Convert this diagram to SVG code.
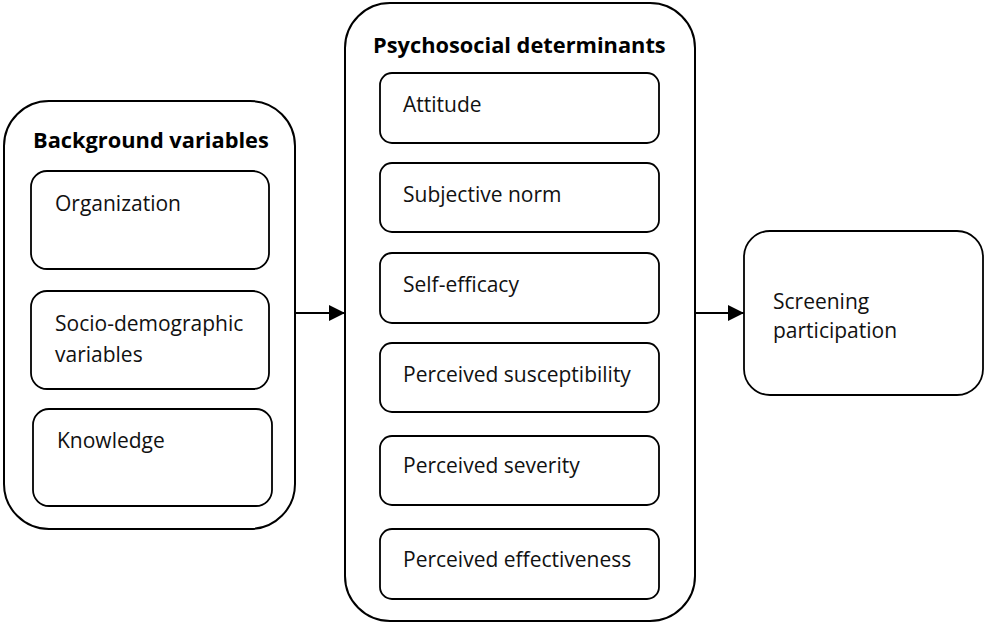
<svg xmlns="http://www.w3.org/2000/svg" width="984" height="623" viewBox="0 0 984 623">
  <style>
    .outer { fill: #fff; stroke: #000; stroke-width: 2; }
    .inner { fill: #fff; stroke: #000; stroke-width: 1.8; }
    .t { font-family: "Open Sans", "Noto Sans", sans-serif; font-size: 21px; fill: #111; }
    .h { font-family: "Open Sans", "Noto Sans", sans-serif; font-size: 21.8px; font-weight: bold; fill: #000; }
    .link { stroke: #000; stroke-width: 2; fill: none; }
  </style>
  <defs>
    <marker id="head" markerUnits="userSpaceOnUse" markerWidth="16" markerHeight="16" refX="16" refY="8" orient="auto">
      <path d="M0,0 L16,8 L0,16 Z" fill="#000"/>
    </marker>
  </defs>

  <!-- Background variables -->
  <g id="background">
    <rect class="outer" x="4" y="101" width="291" height="428" rx="45" ry="45"/>
    <text class="h" x="33" y="148">Background variables</text>
  </g>
  <g id="organization">
    <rect class="inner" x="31" y="171" width="238" height="98" rx="16" ry="16"/>
    <text class="t" x="55" y="211">Organization</text>
  </g>
  <g id="socio-demographic">
    <rect class="inner" x="31" y="291" width="238" height="98" rx="16" ry="16"/>
    <text class="t" x="55" y="331">Socio-demographic</text>
    <text class="t" x="55" y="362">variables</text>
  </g>
  <g id="knowledge">
    <rect class="inner" x="33" y="409" width="239" height="97" rx="16" ry="16"/>
    <text class="t" x="57" y="448">Knowledge</text>
  </g>

  <!-- Psychosocial determinants -->
  <g id="psychosocial">
    <rect class="outer" x="345" y="3" width="350" height="618" rx="45" ry="45"/>
    <text class="h" x="373" y="53">Psychosocial determinants</text>
  </g>
  <g id="attitude">
    <rect class="inner" x="380" y="73" width="279" height="70" rx="12" ry="12"/>
    <text class="t" x="403" y="112">Attitude</text>
  </g>
  <g id="subjective-norm">
    <rect class="inner" x="380" y="163" width="279" height="69" rx="12" ry="12"/>
    <text class="t" x="403" y="202">Subjective norm</text>
  </g>
  <g id="self-efficacy">
    <rect class="inner" x="380" y="253" width="279" height="70" rx="12" ry="12"/>
    <text class="t" x="403" y="292">Self-efficacy</text>
  </g>
  <g id="susceptibility">
    <rect class="inner" x="380" y="343" width="279" height="69" rx="12" ry="12"/>
    <text class="t" x="403" y="382">Perceived susceptibility</text>
  </g>
  <g id="severity">
    <rect class="inner" x="380" y="436" width="279" height="69" rx="12" ry="12"/>
    <text class="t" x="403" y="473">Perceived severity</text>
  </g>
  <g id="effectiveness">
    <rect class="inner" x="380" y="529" width="279" height="70" rx="12" ry="12"/>
    <text class="t" x="403" y="567">Perceived effectiveness</text>
  </g>

  <!-- Outcome -->
  <g id="screening">
    <rect class="inner" x="744" y="231" width="239" height="164" rx="26" ry="26"/>
    <text class="t" x="773" y="309">Screening</text>
    <text class="t" x="773" y="338">participation</text>
  </g>

  <!-- Connectors -->
  <g id="connectors">
    <line class="link" x1="296" y1="313" x2="345" y2="313" marker-end="url(#head)"/>
    <line class="link" x1="696" y1="313" x2="744" y2="313" marker-end="url(#head)"/>
  </g>
</svg>
